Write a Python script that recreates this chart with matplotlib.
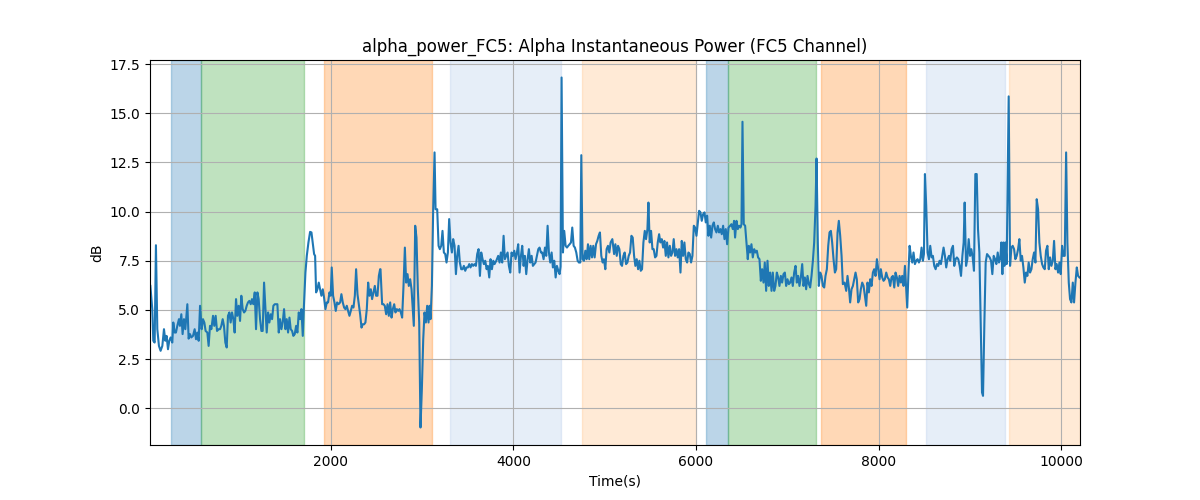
import numpy as np
import matplotlib
matplotlib.use('Agg')
import matplotlib.pyplot as plt

# alpha power trace (FC5) in pieces
t1 = [25, 46, 57, 72, 86, 101, 119, 137, 156, 174, 189, 203, 218, 232, 247, 265, 276, 291, 305, 320,
      338, 349, 364, 378, 393, 408, 430, 444, 459, 473, 492, 510, 525, 539, 554, 569, 587, 601, 616, 630,
      649, 663, 678, 693, 711, 725, 740, 755, 773, 788, 802, 817, 831, 846, 861, 875, 890, 904, 919, 934,
      948, 963, 977, 992, 1007, 1021, 1036, 1051, 1065, 1080, 1094, 1109, 1124, 1138, 1153, 1168, 1182,
      1197, 1211, 1226, 1241, 1255, 1270]
v1 = [6.22, 5.04, 3.43, 3.34, 8.29, 4.02, 3.17, 2.92, 3.17, 4.02, 3.43, 3.68, 3.0, 3.43, 3.6, 3.34, 4.36,
      3.85, 3.85, 4.19, 4.53, 4.19, 4.78, 3.77, 4.53, 4.02, 5.29, 3.54, 3.77, 3.6, 3.68, 4.02, 3.51, 3.85,
      3.43, 5.21, 4.02, 4.53, 4.36, 3.93, 3.85, 3.17, 4.19, 4.02, 4.70, 4.19, 4.70, 3.93, 4.02, 4.02, 4.19,
      4.53, 4.19, 3.34, 3.09, 4.70, 4.87, 4.36, 4.87, 4.53, 3.85, 5.55, 4.70, 5.21, 4.44, 5.72, 5.04, 4.87,
      4.95, 5.21, 5.38, 5.46, 5.29, 5.55, 5.29, 5.89, 4.02, 5.89, 5.55, 4.53, 3.93, 3.93, 6.39]

t2 = [1299, 1314, 1328, 1343, 1358, 1372, 1387, 1401, 1416, 1431, 1445, 1460, 1474, 1489, 1504, 1518,
      1533, 1548, 1562, 1577, 1591, 1606, 1621, 1635, 1650, 1664, 1679, 1694, 1705, 1723, 1738, 1756,
      1774, 1789, 1803, 1818, 1829, 1840, 1854, 1869, 1884, 1898, 1913, 1927, 1942, 1957, 1971, 1986,
      2000, 2011, 2026, 2041, 2055, 2070, 2085, 2103, 2117, 2132, 2147, 2161, 2176, 2190, 2205, 2220,
      2234, 2249, 2264, 2278, 2293, 2307, 2322, 2337, 2351, 2366, 2380, 2395, 2410, 2424, 2439, 2453,
      2468, 2483, 2497, 2512, 2527, 2541]
v2 = [3.85, 4.87, 4.36, 4.78, 4.53, 5.21, 5.29, 5.29, 5.29, 3.85, 4.53, 4.02, 4.36, 5.04, 4.02, 4.53,
      3.85, 4.61, 4.02, 3.93, 3.68, 3.77, 4.19, 3.85, 4.87, 4.53, 5.04, 3.68, 5.04, 6.90, 7.75, 8.43,
      8.97, 8.94, 8.43, 7.84, 7.75, 5.89, 6.05, 6.39, 6.05, 5.72, 6.05, 5.63, 5.04, 5.38, 5.38, 5.89,
      5.72, 7.16, 5.72, 5.38, 4.95, 5.38, 5.29, 5.38, 5.80, 5.38, 5.12, 5.04, 5.21, 4.95, 4.70, 4.95,
      5.21, 5.12, 5.72, 7.07, 5.80, 5.29, 4.78, 4.10, 4.27, 4.27, 4.36, 5.04, 6.39, 5.72, 6.05, 5.55,
      5.89, 6.22, 5.72, 5.72, 6.73, 7.07]

t3 = [2545, 2563, 2578, 2592, 2607, 2622, 2636, 2651, 2666, 2680, 2695, 2709, 2724, 2739, 2753, 2768,
      2782, 2797, 2812, 2826, 2841, 2855, 2870, 2885, 2899, 2910, 2925, 2939, 2954, 2969, 2983, 2998,
      3013, 3027, 3042, 3056, 3071, 3082, 3093, 3108, 3122, 3137, 3148, 3166, 3181, 3195, 3210, 3224,
      3239, 3254, 3268, 3283, 3297, 3312, 3327, 3341, 3356, 3371, 3385, 3400, 3414, 3429, 3444, 3458,
      3473, 3487, 3502, 3517, 3531, 3546, 3560, 3575, 3590, 3604, 3619, 3634, 3648, 3663, 3677, 3692,
      3707, 3721, 3736, 3750, 3765, 3780, 3794, 3813]
v3 = [7.07, 5.29, 5.29, 5.21, 4.78, 5.29, 4.70, 5.38, 4.61, 5.04, 5.29, 4.87, 5.04, 4.95, 5.04, 4.87,
      4.61, 6.22, 8.17, 6.39, 6.82, 6.22, 6.56, 6.05, 5.04, 4.19, 9.28, 8.68, 6.05, 4.36, -0.98, 0.97,
      3.51, 4.87, 4.36, 5.21, 4.36, 5.21, 4.53, 6.22, 10.12, 13.01, 10.12, 10.12, 8.26, 8.09, 8.26, 9.02,
      7.92, 7.84, 7.41, 7.92, 9.62, 8.43, 7.92, 8.60, 8.26, 6.82, 7.75, 8.26, 7.41, 7.07, 7.07, 7.24,
      6.99, 7.16, 7.16, 7.33, 7.16, 7.33, 7.24, 7.33, 7.24, 7.84, 8.09, 6.73, 7.92, 7.58, 7.33, 7.50,
      7.07, 7.24, 6.65, 7.58, 7.07, 7.50, 7.33, 7.50]

t4 = [3820, 3834, 3849, 3863, 3878, 3893, 3907, 3922, 3937, 3951, 3966, 3980, 3995, 4010, 4024, 4039,
      4053, 4068, 4083, 4097, 4112, 4126, 4141, 4156, 4170, 4185, 4200, 4214, 4229, 4243, 4258, 4273,
      4287, 4302, 4316, 4331, 4346, 4360, 4375, 4389, 4404, 4419, 4433, 4448, 4463, 4477, 4492, 4506,
      4517, 4528, 4543, 4557, 4572, 4587, 4601, 4616, 4631, 4645, 4660, 4674, 4689, 4704, 4718, 4733,
      4744, 4758, 4773, 4788, 4802, 4817, 4831, 4846, 4861, 4875, 4890, 4905, 4919, 4934, 4948, 4963,
      4978, 4992, 5007, 5021, 5036, 5051, 5065, 5084]
v4 = [7.58, 7.75, 7.41, 7.92, 7.41, 8.77, 7.58, 7.75, 7.92, 7.24, 6.90, 7.92, 7.75, 8.01, 7.58, 7.92,
      8.34, 6.90, 7.75, 8.26, 7.24, 7.75, 6.82, 7.58, 8.09, 7.41, 7.75, 7.24, 7.33, 7.41, 7.75, 8.09,
      8.17, 7.92, 7.92, 7.58, 8.17, 7.75, 9.28, 7.92, 7.41, 7.92, 7.16, 7.50, 6.65, 7.24, 6.99, 6.82,
      7.2, 16.82, 7.92, 9.02, 8.26, 8.17, 8.26, 8.34, 8.43, 9.19, 8.26, 8.17, 7.92, 7.50, 7.41, 7.41,
      12.87, 7.58, 7.50, 8.01, 7.58, 8.34, 7.58, 8.26, 7.67, 8.26, 7.67, 8.34, 8.51, 8.77, 8.94, 7.75,
      7.41, 7.58, 7.07, 8.09, 8.26, 7.92, 8.43, 8.60]

t5 = [5103, 5117, 5132, 5146, 5161, 5176, 5190, 5205, 5219, 5234, 5249, 5263, 5278, 5293, 5307, 5322,
      5336, 5351, 5366, 5380, 5395, 5409, 5424, 5439, 5453, 5468, 5479, 5493, 5508, 5523, 5537, 5552,
      5567, 5581, 5596, 5610, 5625, 5640, 5654, 5669, 5683, 5698, 5713, 5727, 5742, 5756, 5771, 5786,
      5800, 5815, 5830, 5844, 5859, 5873, 5888, 5903, 5917, 5932, 5946, 5961, 5976, 5990, 6005, 6020,
      6034, 6049, 6063, 6078, 6093, 6107, 6122, 6136, 6151, 6166, 6180, 6195, 6209, 6224, 6239, 6253,
      6268, 6282, 6297, 6312, 6326, 6341, 6356]
v5 = [7.84, 8.34, 7.75, 8.26, 8.09, 7.33, 7.24, 7.75, 7.92, 7.33, 7.41, 7.75, 7.92, 8.77, 8.68, 7.75,
      7.24, 7.58, 7.07, 7.50, 6.99, 7.07, 8.43, 9.02, 8.60, 9.11, 10.46, 8.43, 9.02, 8.09, 8.09, 7.67,
      7.75, 8.43, 8.85, 8.43, 8.60, 8.17, 8.51, 7.75, 8.43, 7.67, 8.26, 7.75, 7.92, 8.60, 7.75, 8.09,
      7.67, 8.09, 6.90, 8.51, 7.75, 8.43, 7.58, 7.41, 7.92, 7.84, 7.41, 7.75, 9.28, 9.19, 8.77, 9.45,
      10.04, 9.96, 9.53, 9.87, 9.96, 9.45, 9.79, 8.77, 9.28, 8.68, 9.28, 9.45, 9.11, 8.94, 9.28, 8.94,
      9.11, 8.85, 9.28, 8.60, 9.11, 8.34, 9.19]

t6 = [6374, 6388, 6403, 6417, 6428, 6443, 6458, 6472, 6487, 6498, 6509, 6523, 6538, 6553, 6567, 6578,
      6593, 6607, 6622, 6637, 6651, 6666, 6680, 6695, 6710, 6724, 6739, 6753, 6768, 6783, 6797, 6812,
      6827, 6841, 6856, 6870, 6885, 6900, 6914, 6929, 6943, 6958, 6973, 6987, 7002, 7017, 7031, 7046,
      7060, 7075, 7090, 7104, 7119, 7133, 7148, 7163, 7177, 7192, 7206, 7221, 7236, 7250, 7265, 7280,
      7294, 7309, 7320, 7334, 7345, 7360, 7374, 7389, 7404, 7418, 7433, 7448, 7462, 7477, 7491, 7506,
      7521, 7535, 7550, 7564, 7579, 7594, 7608, 7627]
v6 = [9.28, 9.36, 9.11, 9.53, 8.68, 9.53, 9.11, 9.28, 9.19, 9.36, 14.57, 9.36, 9.28, 8.43, 7.58, 8.26,
      7.92, 8.34, 7.67, 8.09, 7.92, 8.01, 7.67, 7.58, 6.48, 7.07, 6.39, 7.41, 5.97, 7.50, 6.22, 6.90,
      5.97, 6.90, 5.97, 6.22, 6.90, 6.65, 6.22, 6.73, 6.39, 6.82, 6.90, 6.22, 6.56, 6.31, 6.39, 6.65,
      6.22, 6.90, 7.24, 6.39, 6.73, 6.22, 6.65, 7.33, 6.22, 6.65, 6.05, 6.73, 6.31, 6.14, 6.73, 7.50,
      8.43, 10.29, 12.70, 8.43, 6.22, 6.90, 6.73, 6.22, 6.14, 6.73, 7.07, 8.26, 8.94, 9.02, 8.43, 7.58,
      6.90, 7.07, 8.94, 9.53, 8.77, 7.75, 6.31, 6.39]

t7 = [7645, 7659, 7674, 7688, 7703, 7718, 7732, 7747, 7761, 7776, 7791, 7805, 7820, 7835, 7849, 7864,
      7878, 7893, 7908, 7922, 7937, 7951, 7966, 7981, 7995, 8010, 8024, 8039, 8054, 8068, 8083, 8098,
      8112, 8127, 8141, 8156, 8171, 8185, 8200, 8214, 8229, 8244, 8258, 8273, 8288, 8302, 8313, 8328,
      8339, 8353, 8368, 8382, 8397, 8412, 8426, 8441, 8456, 8470, 8485, 8496, 8507, 8521, 8536, 8551,
      8565, 8580, 8594, 8609, 8624, 8638, 8653, 8667, 8682, 8697, 8711, 8726, 8740, 8755, 8770, 8784,
      8799, 8814, 8828, 8843, 8857, 8872, 8887]
v7 = [5.97, 6.73, 6.14, 5.38, 6.05, 6.22, 6.56, 6.90, 6.56, 5.38, 5.55, 6.05, 6.39, 6.22, 5.72, 5.21,
      6.39, 5.89, 6.56, 6.22, 6.90, 7.07, 6.73, 7.58, 7.07, 6.56, 7.07, 6.65, 6.48, 6.56, 6.90, 6.65,
      6.56, 6.22, 6.65, 6.73, 6.14, 6.90, 6.65, 6.22, 6.73, 6.39, 6.73, 6.22, 7.24, 6.05, 5.12, 7.07,
      8.26, 7.75, 7.41, 7.92, 7.33, 7.50, 7.58, 7.41, 7.58, 8.17, 7.50, 7.84, 11.91, 10.29, 7.92, 7.58,
      8.26, 7.67, 7.75, 7.24, 7.07, 7.33, 7.24, 7.50, 7.33, 7.75, 8.17, 7.75, 7.16, 7.58, 7.75, 7.50,
      8.09, 8.26, 7.24, 7.58, 7.67, 7.58, 7.24]

t8 = [8902, 8917, 8931, 8942, 8957, 8971, 8986, 9001, 9015, 9030, 9044, 9059, 9074, 9088, 9103, 9117,
      9132, 9143, 9158, 9172, 9187, 9202, 9216, 9231, 9245, 9260, 9275, 9289, 9304, 9318, 9333, 9344,
      9355, 9366, 9377, 9388, 9402, 9424, 9439, 9454, 9468, 9483, 9497, 9512, 9527, 9541, 9556, 9570,
      9585, 9600, 9614, 9629, 9643, 9658, 9673, 9687, 9702, 9717, 9731, 9746, 9760, 9775, 9790, 9804,
      9819, 9833, 9848, 9863, 9877, 9892, 9907, 9921, 9936, 9950, 9965, 9980, 9994, 10009, 10023, 10038,
      10053, 10067, 10082, 10096, 10111, 10126, 10140, 10155, 10170, 10184, 10199]
v8 = [6.73, 7.75, 8.43, 10.46, 7.24, 7.58, 8.60, 7.75, 8.09, 7.67, 6.99, 11.91, 11.91, 9.11, 7.92, 4.36,
      0.80, 0.63, 4.36, 7.41, 7.84, 7.75, 7.67, 7.50, 6.82, 7.75, 7.58, 7.33, 7.92, 7.41, 7.67, 8.43,
      6.82, 8.43, 7.24, 8.43, 7.33, 15.86, 7.24, 8.17, 8.26, 8.09, 7.58, 7.75, 8.09, 8.60, 7.50, 7.75,
      7.16, 6.39, 6.90, 6.73, 7.41, 6.90, 7.07, 7.58, 7.92, 7.41, 10.63, 10.12, 8.43, 7.75, 7.33, 7.16,
      7.07, 8.01, 8.26, 7.07, 7.67, 7.24, 7.50, 8.51, 7.07, 7.33, 6.90, 7.41, 6.82, 8.26, 7.75, 7.75,
      13.01, 8.43, 6.39, 5.55, 5.38, 6.39, 5.38, 6.39, 7.16, 6.73, 6.65]

# labelled time windows
span_start = [254, 579, 1931, 3301, 4747, 6106, 6351, 7367, 8517, 9427]
span_end = [579, 1708, 3111, 4525, 6000, 6351, 7312, 8305, 9383, 10205]
span_kind = ['a', 'b', 'c', 'd', 'e', 'a', 'b', 'c', 'd', 'e']

# tab20 pairs, all at alpha 0.3
kind_color = {
    'a': '#1f77b4',
    'b': '#2ca02c',
    'c': '#ff7f0e',
    'd': '#aec7e8',
    'e': '#ffbb78',
}

t = np.array(t1 + t2 + t3 + t4 + t5 + t6 + t7 + t8, dtype=float)
v = np.array(v1 + v2 + v3 + v4 + v5 + v6 + v7 + v8)

fig, ax = plt.subplots(figsize=(12, 5), dpi=100)
for s, e, k in zip(span_start, span_end, span_kind):
    ax.axvspan(s, e, color=kind_color[k], alpha=0.3)
ax.plot(t, v, color='tab:blue')
ax.set_xlim(21, 10205)
ax.set_title('alpha_power_FC5: Alpha Instantaneous Power (FC5 Channel)')
ax.set_xlabel('Time(s)')
ax.set_ylabel('dB')
ax.grid(True)
fig.savefig('out.png')
